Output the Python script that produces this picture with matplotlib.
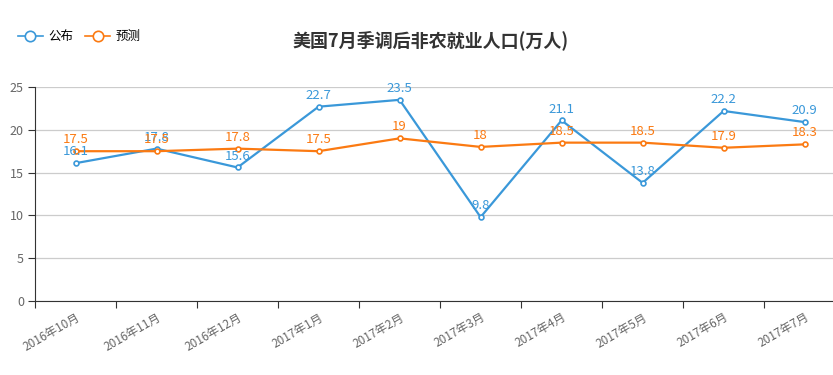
import matplotlib
matplotlib.use("Agg")
import matplotlib.pyplot as plt
from matplotlib.lines import Line2D

plt.rcParams['font.family'] = ['Noto Sans CJK SC', 'DejaVu Sans']

# data
months = ["2016年10月", "2016年11月", "2016年12月", "2017年1月", "2017年2月",
          "2017年3月", "2017年4月", "2017年5月", "2017年6月", "2017年7月"]
published = [16.1, 17.8, 15.6, 22.7, 23.5, 9.8, 21.1, 13.8, 22.2, 20.9]
forecast = [17.5, 17.5, 17.8, 17.5, 19, 18, 18.5, 18.5, 17.9, 18.3]

blue = "#3a98d9"
orange = "#fb7a12"

fig = plt.figure(figsize=(8.33, 3.75), dpi=100)
ax = fig.add_axes([35 / 833, 1 - 301 / 375, 798 / 833, 214 / 375])

x = list(range(len(months)))
ax.plot(x, published, color=blue, lw=1.6, marker="o", ms=3.5,
        mfc="white", mec=blue, mew=1.2, zorder=3)
ax.plot(x, forecast, color=orange, lw=1.6, marker="o", ms=3.5,
        mfc="white", mec=orange, mew=1.2, zorder=3)

for xi, v in zip(x, published):
    ax.annotate(f"{v:g}", (xi, v), xytext=(0, 3.5), textcoords="offset points",
                ha="center", va="bottom", color=blue, fontsize=9.5)
for xi, v in zip(x, forecast):
    ax.annotate(f"{v:g}", (xi, v), xytext=(0, 3.5), textcoords="offset points",
                ha="center", va="bottom", color=orange, fontsize=9.5)

ax.set_ylim(0, 25)
ax.set_yticks([0, 5, 10, 15, 20, 25])
ax.set_xlim(-0.5, 9.35)
ax.set_xticks([i - 0.5 for i in x])
ax.set_xticklabels([])
ax.set_xticks(x, minor=True)
ax.set_xticklabels(months, minor=True, rotation=30, ha="right",
                   rotation_mode="anchor", color="#666666", fontsize=8.5)
ax.tick_params(axis="x", which="minor", length=0, pad=7)
ax.tick_params(axis="x", which="major", length=5, color="#333333")
ax.tick_params(axis="y", length=5, color="#333333", labelcolor="#666666",
               labelsize=9, pad=3)

ax.grid(axis="y", color="#cccccc", lw=0.9)
ax.set_axisbelow(True)
for s in ["top", "right"]:
    ax.spines[s].set_visible(False)
ax.spines["left"].set_color("#333333")
ax.spines["bottom"].set_color("#333333")

fig.text(0.517, 0.893, "美国7月季调后非农就业人口(万人)", ha="center", va="center",
         fontsize=13, fontweight="bold", color="#333333")

handles = [Line2D([], [], color=blue, marker="o", ms=7.5, mfc="white", mew=1.2, lw=1.2),
           Line2D([], [], color=orange, marker="o", ms=7.5, mfc="white", mew=1.2, lw=1.2)]
fig.legend(handles, ["公布", "预测"], loc="center left", bbox_to_anchor=(0.008, 0.903),
           ncol=2, frameon=False, fontsize=9, handlelength=2.0, columnspacing=1.0,
           handletextpad=0.4)

fig.savefig("out.png", dpi=100)
